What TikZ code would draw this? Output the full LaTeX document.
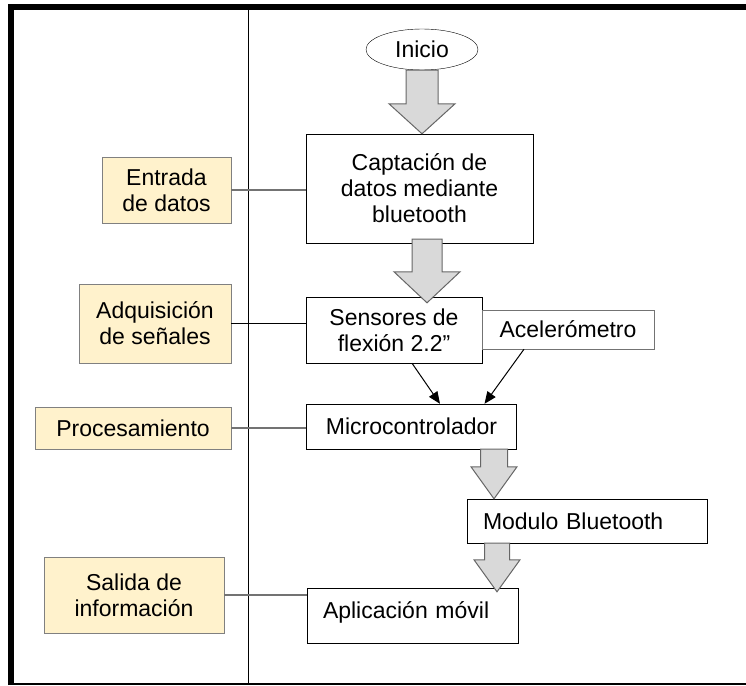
\documentclass[tikz,border=0pt]{standalone}
\usepackage{fontspec}
\setmainfont{Liberation Sans}
\usetikzlibrary{shapes.geometric,arrows.meta}
\definecolor{tagfill}{HTML}{FFF2CC}
\newcommand{\fatarrow}[6]{%
  \coordinate (t0) at (#1 |- #2);
  \coordinate (tip) at ([yshift=-#6]t0);
  \draw[fat] ([xshift=-#3]#1) -- ([xshift=-#3,yshift=#5]tip) -- ([xshift=-#4,yshift=#5]tip) -- (tip)
    -- ([xshift=#4,yshift=#5]tip) -- ([xshift=#3,yshift=#5]tip) -- ([xshift=#3]#1) -- cycle;}

\begin{document}
\begin{tikzpicture}[x=1pt,y=-1pt,font=\fontsize{23}{26}\selectfont,
  box/.style={draw,inner sep=0pt,align=center},
  tag/.style={box,draw=black!50,fill=tagfill},
  fat/.style={draw=black!60,fill=black!15,line width=1pt,line join=miter},
  link/.style={draw=black!55,line width=1.2pt}]
\useasboundingbox (0,0) rectangle (746,685);
\draw[line width=6pt] (11,685) -- (11,7) -- (746,7);
\draw[line width=2.5pt] (8,684) -- (746,684);
\draw (248,10) -- (248,684);

\node[draw,ellipse,inner sep=0pt,minimum width=112pt,minimum height=41pt] (inicio) at (422,49.5) {Inicio};
\node[box,minimum width=227pt,minimum height=109pt] (captacion) at (419.5,188.5) {Captación de\\datos mediante\\bluetooth};
\node[tag,minimum width=129pt,minimum height=66pt] (entrada) at (166.5,190) {Entrada\\de datos};
\node[box,minimum width=176pt,minimum height=66pt] (sensores) at (394,330) {Sensores de\\flexión 2.2”};
\node[box,draw=black!55,minimum width=172pt,minimum height=39pt] (acel) at (568,329.5) {Acelerómetro};
\node[tag,minimum width=152pt,minimum height=79pt] (adquisicion) at (155,323.5) {Adquisición\\de señales};
\node[box,minimum width=210pt,minimum height=45pt] (micro) at (411.5,426.5) {Microcontrolador};
\node[tag,minimum width=196pt,minimum height=42pt] (procesamiento) at (133,428) {Procesamiento};
\node[box,minimum height=44pt,text width=208pt,align=left,inner xsep=16pt] (modulo) at (587,521) {Modulo Bluetooth};
\node[box,minimum height=55pt,text width=179pt,align=left,inner xsep=16pt,text depth=10pt] (aplicacion) at (412.5,615.5) {Aplicación móvil};
\node[tag,minimum width=180pt,minimum height=76pt] (salida) at (134,595) {Salida de\\información};

\draw[link] (entrada.east) -- (entrada.east -| captacion.west);
\draw[line width=1pt] (adquisicion.east) -- (adquisicion.east -| sensores.west);
\draw[link] (procesamiento.east) -- (procesamiento.east -| micro.west);
\draw[link] (salida.east) -- (salida.east -| aplicacion.west);

\draw[-{Triangle[length=12pt,width=10pt]},line width=1pt] ([xshift=18pt]sensores.south) -- ([xshift=28.5pt]micro.north);
\draw[-{Triangle[length=12pt,width=10pt]},line width=1pt] ([xshift=-44pt]acel.south) -- ([xshift=73pt]micro.north);

\fatarrow{inicio.south}{captacion.north}{16pt}{33pt}{30pt}{0pt}
\coordinate (a2) at ([xshift=7.5pt,yshift=4pt]captacion.south);
\fatarrow{a2}{sensores.north}{15pt}{33pt}{31pt}{6pt}
\coordinate (a3) at ([xshift=82.5pt]micro.south);
\fatarrow{a3}{modulo.north}{13.5pt}{23pt}{32pt}{0pt}
\coordinate (a4) at ([xshift=-90pt]modulo.south);
\fatarrow{a4}{aplicacion.north}{12.5pt}{23pt}{32pt}{4pt}
\end{tikzpicture}
\end{document}
